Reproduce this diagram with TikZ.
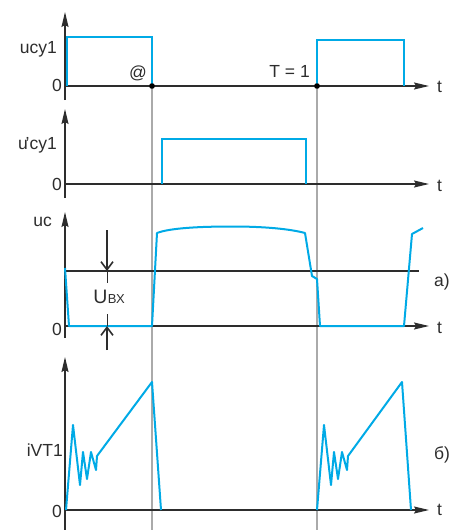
\documentclass[tikz,border=0pt]{standalone}
\usepackage{fontspec}
\setmainfont{Liberation Sans}
\usetikzlibrary{arrows.meta}
\definecolor{sig}{RGB}{0,170,230}
\definecolor{ax}{RGB}{45,45,45}
\definecolor{guide}{RGB}{170,170,170}
\begin{document}
\begin{tikzpicture}[x=1pt,y=-1pt,
  axis/.style={draw=ax,line width=1.3pt},
  axarrow/.style={axis,-{Stealth[length=15pt,width=7pt,inset=2pt]}},
  guideline/.style={draw=guide,line width=1.2pt},
  signal/.style={draw=sig,line width=2pt},
  dimarrow/.style={draw=ax,line width=1.4pt,-{Straight Barb[length=8pt,width=12pt,line width=1.6pt]}},
  dimline/.style={draw=ax,line width=1pt},
  lbl/.style={font=\fontsize{17.5}{20}\selectfont,inner sep=0pt,text=ax},
  dotn/.style={circle,fill=black,inner sep=0pt,minimum size=5.5pt},
]
\useasboundingbox (0,0) rectangle (456,530);

% guide lines
\node[dotn] (d1) at (152,86) {};
\node[dotn] (d2) at (317,86) {};
\coordinate (g1) at (152,530);
\coordinate (g2) at (317,530);
\draw[guideline] (d1.center) -- (g1);
\draw[guideline] (d2.center) -- (g2);

% ---------- panel 1 ----------
\draw[axarrow] (65,100) -- (65,12);
\draw[axarrow] (65,86) -- (429,86);
\draw[signal] (67,86) -- (67,37) -- (152,37) -- (152,86);
\draw[signal] (317,86) -- (317,40) -- (404,40) -- (404,86);
\node[dotn] at (d1) {};
\node[dotn] at (d2) {};
\node[lbl,anchor=base east] (l1) at (57,53) {ucy1};
\node[lbl,anchor=base east] (z1) at (62,91) {0};
\node[lbl,anchor=base west] (t1) at (437,92) {t};
\node[lbl,anchor=base east] (at) at (147,78) {@};
\node[lbl,anchor=base east] (T1) at (310,77) {T = 1};

% ---------- panel 2 ----------
\draw[axarrow] (65,198) -- (65,109);
\draw[axarrow] (65,184) -- (429,184);
\draw[signal] (162,184) -- (162,139) -- (306,139) -- (306,184);
\node[lbl,anchor=base east] (l2) at (57,149) {u\kern-0.12em’cy1};
\node[lbl,anchor=base east] (z2) at (62,190) {0};
\node[lbl,anchor=base west] (t2) at (437,191) {t};

% ---------- panel 3 ----------
\draw[axarrow] (65,338) -- (65,212);
\draw[axarrow] (65,326) -- (429,326);
\draw[axis] (65,271) -- (419,271);
\draw[signal,line join=round] (65,268) -- (69,326) -- (152,326) -- (157,233)
  .. controls (170,228) and (200,226.5) .. (232,226.5)
  .. controls (265,226.5) and (290,229) .. (305,233)
  -- (312,276) -- (317,279) -- (320,326) -- (404,326) -- (412,234) -- (423,228);
\coordinate (ua) at (107,230);
\coordinate (ub) at (107,271);
\coordinate (uc1) at (107,283);
\coordinate (ud) at (107,350);
\coordinate (ue) at (107,326);
\coordinate (uf) at (107,314);
\draw[dimarrow] (ua) -- (ub);
\draw[dimline] (ub) -- (uc1);
\draw[dimarrow] (ud) -- (ue);
\draw[dimline] (ue) -- (uf);
\node[inner sep=0pt,text=ax,anchor=base] (ubx) at (109,303)
  {\fontsize{19.5}{22}\selectfont U\kern0.5pt\fontsize{13}{15}\selectfont ВХ};
\node[lbl,anchor=base east] (l3) at (52,226) {uc};
\node[lbl,anchor=base east] (z3) at (62,335) {0};
\node[lbl,anchor=base west] (t3) at (437,333) {t};
\node[lbl,anchor=base west] (a3) at (434,286) {а)};

% ---------- panel 4 ----------
\draw[axarrow] (65,530) -- (65,357);
\draw[axarrow] (65,510) -- (429,510);
\draw[signal,line join=round] (66,510) -- (73,425) -- (80,485) -- (83,452) -- (87,479)
  -- (91,452) -- (96,470) -- (97,456) -- (152,382) -- (161,510);
\draw[signal,line join=round] (317,510) -- (324,425) -- (331,485) -- (334,452) -- (338,479)
  -- (342,452) -- (347,470) -- (348,456) -- (402,382) -- (411,510);
\node[lbl,anchor=base east] (l4) at (63,456) {iVT1};
\node[lbl,anchor=base east] (z4) at (62,517) {0};
\node[lbl,anchor=base west] (t4) at (437,515) {t};
\node[lbl,anchor=base west] (b4) at (434,459) {б)};
\end{tikzpicture}
\end{document}
